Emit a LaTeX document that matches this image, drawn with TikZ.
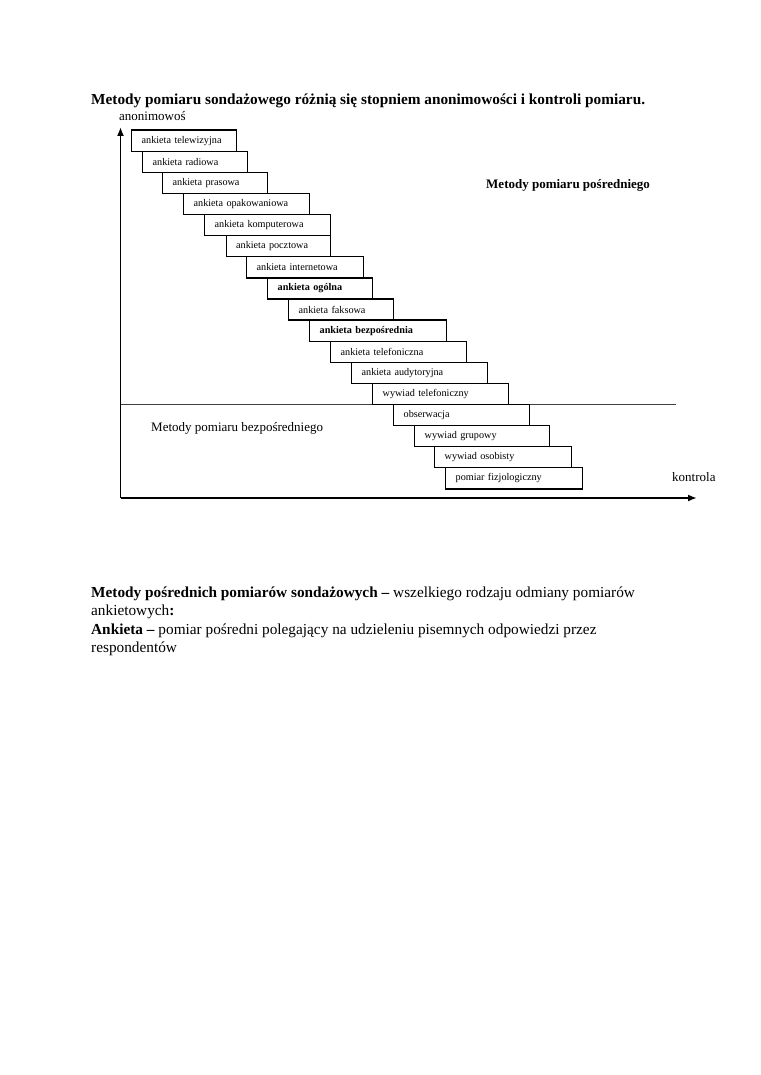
\documentclass[tikz,border=0pt]{standalone}
\usepackage{fontspec}
\setmainfont{Liberation Serif}
\usetikzlibrary{arrows.meta}
\tikzset{
  stepbox/.style={draw, line width=1.3pt, inner xsep=10pt, inner ysep=0pt,
    minimum height=21.1pt, anchor=north west, align=left,
    font=\fontsize{10.2}{12}\selectfont},
  axis/.style={line width=1.8pt, -{Latex[length=9pt,width=7pt]}},
  divider/.style={line width=1pt, draw=black!75},
  big/.style={font=\fontsize{15.3}{18.3}\selectfont, inner sep=0pt, anchor=base west},
  mid/.style={font=\fontsize{13}{15}\selectfont, inner sep=0pt, anchor=base west}
}
\begin{document}
\begin{tikzpicture}[x=1pt,y=-1pt]
\useasboundingbox (0,0) rectangle (760,1075);
% title
\node[big] (title) at (91,104.5) {\bfseries Metody pomiaru sondażowego różnią się stopniem anonimowości i kontroli pomiaru.};
\node[mid] (ylab) at (119,120.5) {anonimowoś};
% axes
\coordinate (O) at (120.5,498);
\coordinate (Ytip) at (120.5,127);
\coordinate (Xtip) at (697,498);
\coordinate (DivL) at (120.5,404);
\coordinate (DivR) at (676,404);
\draw[divider] (DivL) -- (DivR);
% boxes
\node[stepbox, text width=85pt]  (b1)  at (131,129.5) {ankieta telewizyjna};
\node[stepbox, text width=85pt]  (b2)  at (142,150.6) {ankieta radiowa};
\node[stepbox, text width=85pt]  (b3)  at (162,171.7) {ankieta prasowa};
\node[stepbox, text width=106pt] (b4)  at (183,192.8) {ankieta opakowaniowa};
\node[stepbox, text width=106pt] (b5)  at (204,213.9) {ankieta komputerowa};
\node[stepbox, text width=84.5pt] (b6) at (225.5,235.0) {ankieta pocztowa};
\node[stepbox, text width=97pt]  (b7)  at (246,256.1) {ankieta internetowa};
\node[stepbox, text width=85pt]  (b8)  at (267,277.2) {\bfseries ankieta ogólna};
\node[stepbox, text width=85pt]  (b9)  at (288,298.3) {ankieta faksowa};
\node[stepbox, text width=117pt] (b10) at (309,319.4) {\bfseries ankieta bezpośrednia};
\node[stepbox, text width=116pt] (b11) at (330,340.5) {ankieta telefoniczna};
\node[stepbox, text width=116pt] (b12) at (351,361.6) {ankieta audytoryjna};
\node[stepbox, text width=116pt] (b13) at (372,382.7) {wywiad telefoniczny};
\node[stepbox, text width=116pt] (b14) at (393,403.8) {obserwacja};
\node[stepbox, text width=115pt] (b15) at (414,424.9) {wywiad grupowy};
\node[stepbox, text width=117pt] (b16) at (434,446.0) {wywiad osobisty};
\node[stepbox, text width=116.5pt] (b17) at (445,467.1) {pomiar fizjologiczny};
\draw[axis] (O) -- (Ytip);
\draw[axis] (O) -- (Xtip);
% labels
\node[mid, font=\fontsize{13}{15}\selectfont\bfseries] (posr) at (486,189) {Metody pomiaru pośredniego};
\node[mid] (bezp) at (151,431) {Metody pomiaru bezpośredniego};
\node[mid] (xlab) at (672,481) {kontrola};
% bottom text
\node[big] (l1) at (91,597.5) {\textbf{Metody pośrednich pomiarów sondażowych –} wszelkiego rodzaju odmiany pomiarów};
\node[big] (l2) at (91,615.5) {ankietowych\textbf{:}};
\node[big] (l3) at (91,634) {\textbf{Ankieta –} pomiar pośredni polegający na udzieleniu pisemnych odpowiedzi przez};
\node[big] (l4) at (91,652) {respondentów};
\end{tikzpicture}
\end{document}
